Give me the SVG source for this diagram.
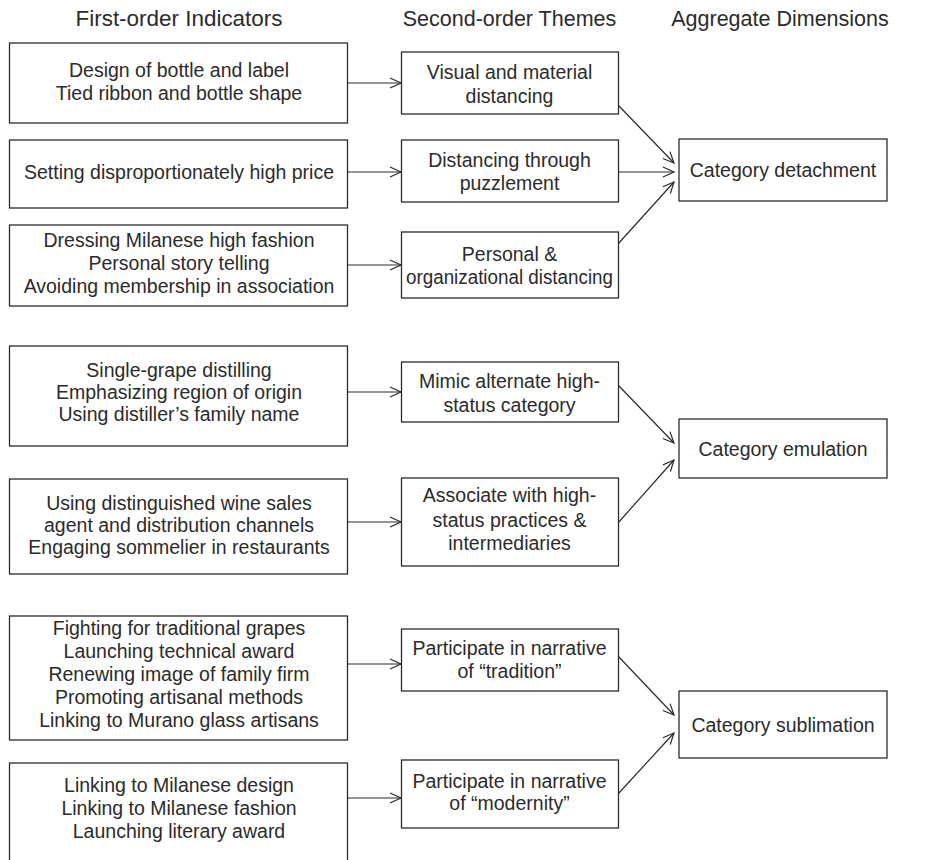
<svg xmlns="http://www.w3.org/2000/svg" width="926" height="860" viewBox="0 0 926 860">
<style>
  .box { fill: #ffffff; stroke: #2b2b2b; stroke-width: 1.3; }
  .t { font-family: "Liberation Sans", Arial, sans-serif; font-size: 19.5px; fill: #2b2b2b; text-anchor: middle; }
  .h { font-family: "Liberation Sans", Arial, sans-serif; font-size: 21.5px; fill: #2b2b2b; text-anchor: middle; }
  .c { fill: none; stroke: #2b2b2b; stroke-width: 1.2; marker-end: url(#arr); }
</style>
<defs>
  <marker id="arr" markerUnits="userSpaceOnUse" markerWidth="14" markerHeight="14" refX="12" refY="6" orient="auto">
    <path d="M1,1 L12,6 L1,11" fill="none" stroke="#2b2b2b" stroke-width="1.2"/>
  </marker>
</defs>
<rect width="926" height="860" fill="#ffffff"/>
<g id="headers">
  <text class="h" x="179" y="26" textLength="207" lengthAdjust="spacingAndGlyphs">First-order Indicators</text>
  <text class="h" x="509.5" y="26">Second-order Themes</text>
  <text class="h" x="780" y="26">Aggregate Dimensions</text>
</g>
<g id="connectors">
  <line class="c" x1="348" y1="83" x2="401" y2="83"/>
  <line class="c" x1="348" y1="172" x2="401" y2="172"/>
  <line class="c" x1="348" y1="265" x2="401" y2="265"/>
  <line class="c" x1="348" y1="392" x2="401" y2="392"/>
  <line class="c" x1="348" y1="522" x2="401" y2="522"/>
  <line class="c" x1="348" y1="664" x2="401" y2="664"/>
  <line class="c" x1="348" y1="798" x2="401" y2="798"/>
  <line class="c" x1="618" y1="105" x2="674" y2="163"/>
  <line class="c" x1="618" y1="172" x2="674" y2="172"/>
  <line class="c" x1="618" y1="244" x2="674" y2="182"/>
  <line class="c" x1="618" y1="385" x2="674" y2="443"/>
  <line class="c" x1="618" y1="523" x2="674" y2="460"/>
  <line class="c" x1="618" y1="656" x2="674" y2="715"/>
  <line class="c" x1="618" y1="794" x2="674" y2="733"/>
</g>
<g id="b1"><rect class="box" x="9.5" y="43" width="338" height="80"/>
  <text class="t" x="179" y="77">Design of bottle and label</text>
  <text class="t" x="179" y="100">Tied ribbon and bottle shape</text></g>
<g id="b2"><rect class="box" x="9.5" y="140" width="338" height="68"/>
  <text class="t" x="179" y="179">Setting disproportionately high price</text></g>
<g id="b3"><rect class="box" x="9.5" y="225" width="338" height="81"/>
  <text class="t" x="179" y="247">Dressing Milanese high fashion</text>
  <text class="t" x="179" y="270">Personal story telling</text>
  <text class="t" x="179" y="293">Avoiding membership in association</text></g>
<g id="b4"><rect class="box" x="9.5" y="346" width="338" height="100"/>
  <text class="t" x="179" y="377">Single-grape distilling</text>
  <text class="t" x="179" y="399">Emphasizing region of origin</text>
  <text class="t" x="179" y="421">Using distiller’s family name</text></g>
<g id="b5"><rect class="box" x="9.5" y="479" width="338" height="95"/>
  <text class="t" x="179" y="510">Using distinguished wine sales</text>
  <text class="t" x="179" y="532">agent and distribution channels</text>
  <text class="t" x="179" y="554">Engaging sommelier in restaurants</text></g>
<g id="b6"><rect class="box" x="9.5" y="616" width="338" height="124"/>
  <text class="t" x="179" y="635">Fighting for traditional grapes</text>
  <text class="t" x="179" y="658">Launching technical award</text>
  <text class="t" x="179" y="681">Renewing image of family firm</text>
  <text class="t" x="179" y="704">Promoting artisanal methods</text>
  <text class="t" x="179" y="727">Linking to Murano glass artisans</text></g>
<g id="b7"><rect class="box" x="9.5" y="763" width="338" height="120"/>
  <text class="t" x="179" y="792">Linking to Milanese design</text>
  <text class="t" x="179" y="815">Linking to Milanese fashion</text>
  <text class="t" x="179" y="838">Launching literary award</text></g>
<g id="s1"><rect class="box" x="401.5" y="52" width="217" height="62"/>
  <text class="t" x="509.5" y="79">Visual and material</text>
  <text class="t" x="509.5" y="103">distancing</text></g>
<g id="s2"><rect class="box" x="401.5" y="140" width="217" height="62"/>
  <text class="t" x="509.5" y="167">Distancing through</text>
  <text class="t" x="509.5" y="190">puzzlement</text></g>
<g id="s3"><rect class="box" x="401.5" y="232" width="217" height="66"/>
  <text class="t" x="509.5" y="261">Personal &amp;</text>
  <text class="t" x="509.5" y="284" textLength="207" lengthAdjust="spacingAndGlyphs">organizational distancing</text></g>
<g id="s4"><rect class="box" x="401.5" y="362" width="217" height="60"/>
  <text class="t" x="509.5" y="388">Mimic alternate high-</text>
  <text class="t" x="509.5" y="412">status category</text></g>
<g id="s5"><rect class="box" x="401.5" y="478" width="217" height="88"/>
  <text class="t" x="509.5" y="502">Associate with high-</text>
  <text class="t" x="509.5" y="527">status practices &amp;</text>
  <text class="t" x="509.5" y="550">intermediaries</text></g>
<g id="s6"><rect class="box" x="401.5" y="629" width="217" height="62"/>
  <text class="t" x="509.5" y="655">Participate in narrative</text>
  <text class="t" x="509.5" y="678">of “tradition”</text></g>
<g id="s7"><rect class="box" x="401.5" y="760" width="217" height="68"/>
  <text class="t" x="509.5" y="788">Participate in narrative</text>
  <text class="t" x="509.5" y="810">of “modernity”</text></g>
<g id="a1"><rect class="box" x="679" y="139" width="208" height="62"/>
  <text class="t" x="783" y="177">Category detachment</text></g>
<g id="a2"><rect class="box" x="679" y="419" width="208" height="59"/>
  <text class="t" x="783" y="456">Category emulation</text></g>
<g id="a3"><rect class="box" x="679" y="691" width="208" height="67"/>
  <text class="t" x="783" y="732">Category sublimation</text></g>
</svg>
